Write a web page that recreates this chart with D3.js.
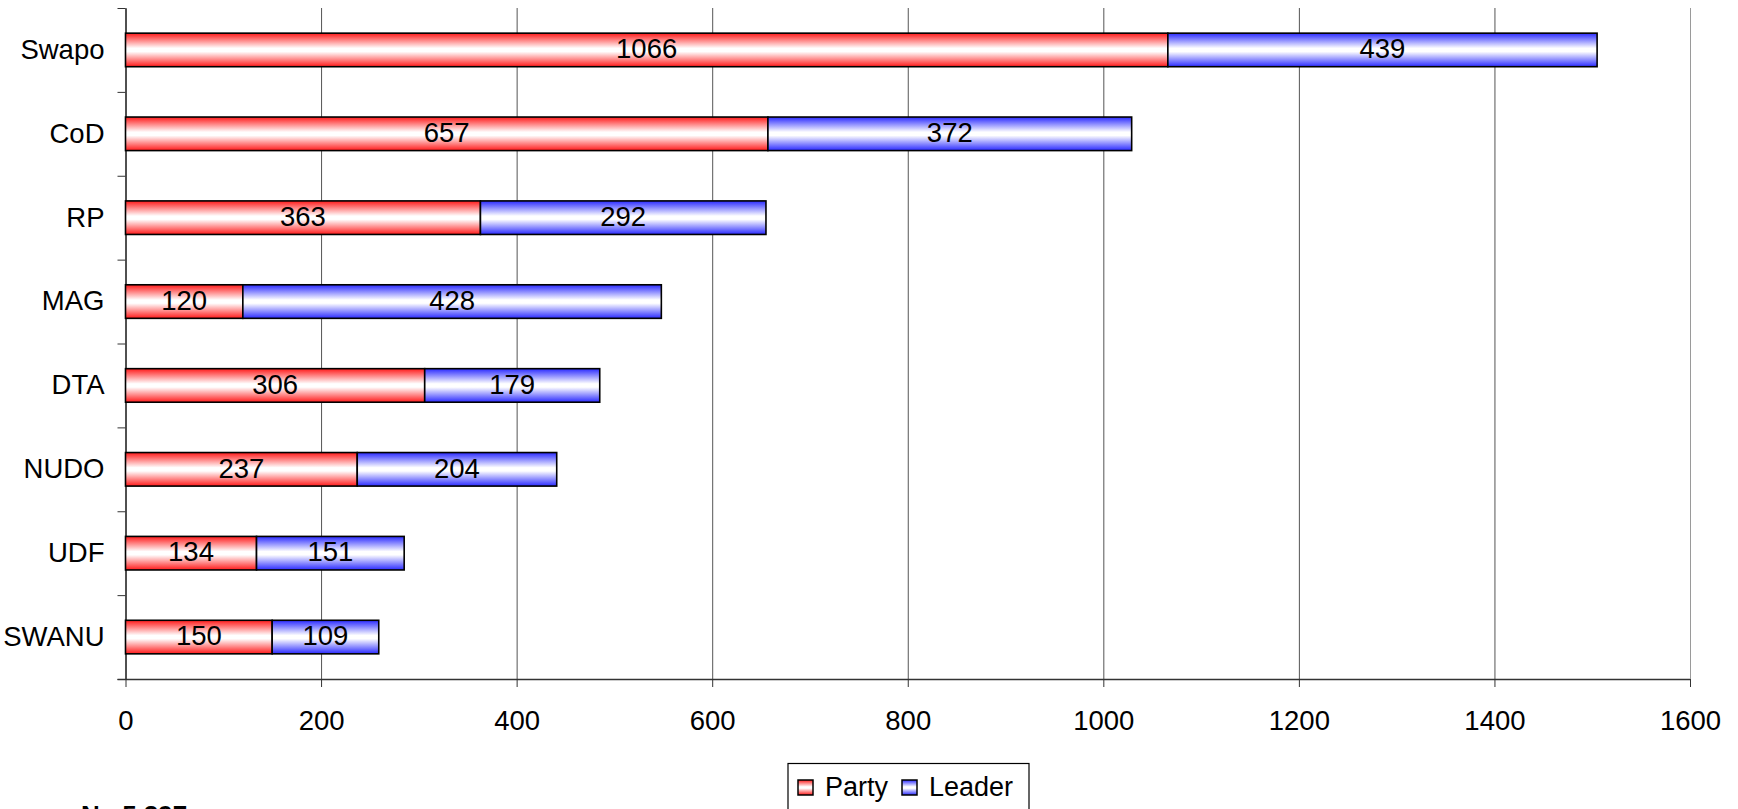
<!DOCTYPE html>
<html>
<head>
<meta charset="utf-8">
<script src="https://cdn.jsdelivr.net/npm/d3@7"></script>
<style>
  html, body { margin: 0; padding: 0; background: #fff; overflow: hidden; }
  svg { display: block; font-family: "Liberation Sans", Arial, sans-serif; }
</style>
</head>
<body>
<svg id="chart" width="1738" height="809"></svg>
<script>
// Mentions per party: by party name vs. by party leader
const categories = ["Swapo", "CoD", "RP", "MAG", "DTA", "NUDO", "UDF", "SWANU"];
const partyValues = [1066, 657, 363, 120, 306, 237, 134, 150];
const leaderValues = [439, 372, 292, 428, 179, 204, 151, 109];
const seriesNames = ["Party", "Leader"];
const xTicks = [0, 200, 400, 600, 800, 1000, 1200, 1400, 1600];
const noteText = "N= 5 297";

const svg = d3.select("#chart");
const plotLeft = 125.5, plotRight = 1690, plotTop = 8, plotBottom = 679;
const fontSize = 27.5;

const x = d3.scaleLinear().domain([0, 1600]).range([plotLeft, plotRight]);
const y = d3.scaleBand().domain(categories).range([plotTop, plotBottom])
  .paddingInner(0.6).paddingOuter(0.3);
const yEdges = d3.scaleLinear().domain([0, categories.length]).range([plotTop, plotBottom]);

// gradient fills: strong colour at the edges, white through the middle
const defs = svg.append("defs");
function grad(id, col) {
  const g = defs.append("linearGradient").attr("id", id)
    .attr("x1", 0).attr("y1", 0).attr("x2", 0).attr("y2", 1);
  g.append("stop").attr("offset", "0%").attr("stop-color", col);
  g.append("stop").attr("offset", "45%").attr("stop-color", "#ffffff");
  g.append("stop").attr("offset", "55%").attr("stop-color", "#ffffff");
  g.append("stop").attr("offset", "100%").attr("stop-color", col);
}
grad("gParty", "#ff1a1a");
grad("gLeader", "#2a2aff");
const fills = ["url(#gParty)", "url(#gLeader)"];

// vertical gridlines
const grid = svg.append("g").attr("transform", `translate(0,${plotTop})`)
  .call(d3.axisBottom(x).tickValues(xTicks).tickSize(plotBottom - plotTop).tickFormat(""));
grid.select(".domain").remove();
grid.selectAll(".tick line").attr("stroke", (d) => d === 1600 ? "#9a9a9a" : "#555").attr("stroke-width", 1);

// x axis
const xAxis = svg.append("g").attr("transform", `translate(0,${plotBottom})`)
  .call(d3.axisBottom(x).tickValues(xTicks).tickFormat(d3.format("d"))
    .tickSize(8).tickPadding(23).tickSizeOuter(0));
xAxis.select(".domain").attr("stroke", "#333").attr("stroke-width", 1.5)
  .attr("d", `M${plotLeft - 8},0.5H${plotRight}`);
xAxis.selectAll(".tick line").attr("stroke", "#333");
xAxis.selectAll(".tick text").attr("font-size", fontSize).attr("fill", "#000")
  .attr("font-family", "Liberation Sans, Arial, sans-serif");

// y axis line and category boundary ticks
const yAxis = svg.append("g").attr("transform", `translate(${plotLeft},0)`)
  .call(d3.axisLeft(yEdges).ticks(categories.length).tickSize(8).tickFormat("").tickSizeOuter(0));
yAxis.select(".domain").attr("stroke", "#333").attr("stroke-width", 1.5);
yAxis.selectAll(".tick line").attr("stroke", "#333");

// category labels
const yLab = svg.append("g").attr("transform", `translate(${plotLeft - 21},0)`)
  .call(d3.axisLeft(y).tickSize(0).tickPadding(0));
yLab.select(".domain").remove();
yLab.selectAll(".tick text").attr("font-size", fontSize).attr("fill", "#000")
  .attr("font-family", "Liberation Sans, Arial, sans-serif");

// stacked bars
const rows = categories.map((c, i) => ({ cat: c, vals: [partyValues[i], leaderValues[i]] }));
const segs = [];
rows.forEach(r => {
  let acc = 0;
  r.vals.forEach((v, k) => { segs.push({ cat: r.cat, k, x0: acc, x1: acc + v, v }); acc += v; });
});

const bars = svg.append("g");
bars.selectAll("rect").data(segs).join("rect")
  .attr("x", d => x(d.x0))
  .attr("y", d => y(d.cat))
  .attr("width", d => x(d.x1) - x(d.x0))
  .attr("height", y.bandwidth())
  .attr("fill", d => fills[d.k])
  .attr("stroke", "#000")
  .attr("stroke-width", 1.6);

bars.selectAll("text").data(segs).join("text")
  .attr("x", d => (x(d.x0) + x(d.x1)) / 2)
  .attr("y", d => y(d.cat) + y.bandwidth() / 2)
  .attr("dy", "0.3em")
  .attr("text-anchor", "middle")
  .attr("font-size", fontSize)
  .attr("fill", "#000")
  .text(d => d.v);

// legend
const lg = svg.append("g");
lg.append("rect").attr("x", 788).attr("y", 763.5).attr("width", 241).attr("height", 60)
  .attr("fill", "#fff").attr("stroke", "#000").attr("stroke-width", 1.2);
const legendX = [798, 902];
seriesNames.forEach((name, k) => {
  lg.append("rect").attr("x", legendX[k]).attr("y", 780).attr("width", 15).attr("height", 15)
    .attr("fill", fills[k]).attr("stroke", "#000").attr("stroke-width", 1.5);
  lg.append("text").attr("x", legendX[k] + 27).attr("y", 796)
    .attr("font-size", 27).attr("fill", "#000").text(name);
});

// sample size note, running off the bottom edge
svg.append("text").attr("x", 81).attr("y", 824)
  .attr("font-size", 26).attr("font-weight", "bold").attr("fill", "#000").text(noteText);
</script>
</body>
</html>
